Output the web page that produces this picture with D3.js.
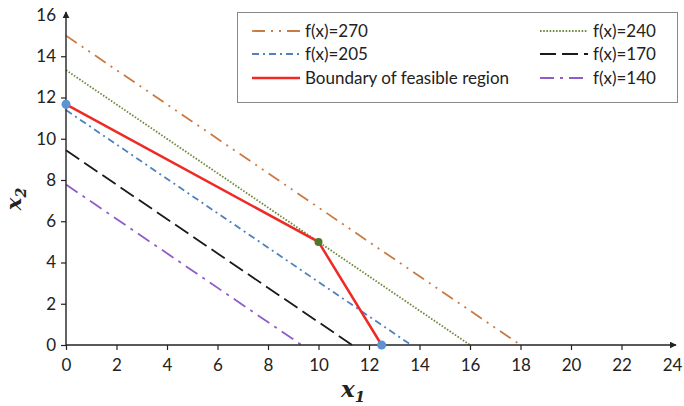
<!DOCTYPE html>
<html>
<head>
<meta charset="utf-8">
<script src="https://cdn.jsdelivr.net/npm/d3@7"></script>
<style>
  html, body { margin: 0; padding: 0; background: #fff; }
  svg { display: block; }
</style>
</head>
<body>
<svg id="chart" width="684" height="406"></svg>
<script>
// ---- Data ----
const xTicks = [0, 2, 4, 6, 8, 10, 12, 14, 16, 18, 20, 22, 24];
const yTicks = [0, 2, 4, 6, 8, 10, 12, 14, 16];

const levelLabels   = ["f(x)=270", "f(x)=240", "f(x)=205", "f(x)=170", "f(x)=140"];
const levelX1Inter  = [18, 16, 13.67, 11.33, 9.33];   // where the line meets x2 = 0
const levelX2Inter  = [15, 13.33, 11.39, 9.44, 7.78]; // where the line meets x1 = 0
const levelColors   = ["#C87B45", "#6E8B3D", "#4F81BD", "#1a1a1a", "#8F5DC9"];
const levelDashes   = ["13,6,2,6,2,6", "1.6,1.6", "7,4,2,4", "16,6", "14,6,3,6"];

const boundaryLabel = "Boundary of feasible region";
const boundaryX1 = [0, 10, 12.5];
const boundaryX2 = [11.67, 5, 0];

const markerX1 = [0, 10, 12.5];
const markerX2 = [11.67, 5, 0];
const markerColors = ["#5B93D3", "#4E7A27", "#5B93D3"];

// ---- Layout ----
const svg = d3.select("#chart");
const x = d3.scaleLinear().domain([0, 24]).range([66, 672]);
const y = d3.scaleLinear().domain([0, 16]).range([345, 15]);
const font = "Lato, 'Open Sans', sans-serif";

// level lines
const lineGen = d3.line().x(d => x(d[0])).y(d => y(d[1]));
levelLabels.forEach((lab, i) => {
  svg.append("path")
    .attr("d", lineGen([[0, levelX2Inter[i]], [levelX1Inter[i], 0]]))
    .attr("fill", "none")
    .attr("stroke", levelColors[i])
    .attr("stroke-width", 1.8)
    .attr("stroke-dasharray", levelDashes[i]);
});

// boundary
svg.append("path")
  .attr("d", lineGen(boundaryX1.map((v, i) => [v, boundaryX2[i]])))
  .attr("fill", "none")
  .attr("stroke", "#EE2A24")
  .attr("stroke-width", 2.5)
  .attr("stroke-linejoin", "round");

// axes
const xAxis = d3.axisBottom(x).tickValues(xTicks).tickSize(5).tickSizeOuter(0);
const gx = svg.append("g").attr("transform", `translate(0,${y(0)})`).call(xAxis);
const yAxis = d3.axisLeft(y).tickValues(yTicks).tickSize(5).tickSizeOuter(0);
const gy = svg.append("g").attr("transform", `translate(${x(0)},0)`).call(yAxis);

[gx, gy].forEach(g => {
  g.select(".domain").remove();
  g.selectAll(".tick line").attr("stroke", "#222").attr("stroke-width", 1.2);
  g.selectAll(".tick text").attr("font-family", font).attr("font-size", 17).attr("fill", "#222");
});
gx.selectAll(".tick text").attr("dy", "0.95em").attr("y", 10);
gy.selectAll(".tick text").attr("x", -10);
gx.selectAll(".tick").filter(d => d === 24).select("line").remove();
gy.selectAll(".tick").filter(d => d === 16).select("line").remove();

// axis lines with arrows
const defs = svg.append("defs");
defs.append("marker").attr("id", "arr").attr("viewBox", "0 0 10 10")
  .attr("refX", 9).attr("refY", 5).attr("markerWidth", 7).attr("markerHeight", 7)
  .attr("markerUnits", "userSpaceOnUse").attr("orient", "auto")
  .append("path").attr("d", "M0,0 L10,5 L0,10 Z").attr("fill", "#222");

svg.append("line").attr("x1", x(0)).attr("y1", y(0)).attr("x2", x(24) + 4).attr("y2", y(0))
  .attr("stroke", "#222").attr("stroke-width", 1.4).attr("marker-end", "url(#arr)");
svg.append("line").attr("x1", x(0)).attr("y1", y(0)).attr("x2", x(0)).attr("y2", y(16) - 3)
  .attr("stroke", "#222").attr("stroke-width", 1.4).attr("marker-end", "url(#arr)");

// markers
markerX1.forEach((v, i) => {
  svg.append("circle").attr("cx", x(v)).attr("cy", y(markerX2[i]))
    .attr("r", i === 1 ? 4 : 4.5).attr("fill", markerColors[i]);
});

// axis titles
const xt = svg.append("text").attr("x", 353).attr("y", 397).attr("text-anchor", "middle")
  .attr("font-family", "'DejaVu Serif', serif").attr("font-style", "italic").attr("font-weight", "bold")
  .attr("font-size", 23).attr("fill", "#222");
xt.append("tspan").text("x");
xt.append("tspan").attr("font-size", 15).attr("dy", 5).text("1");

const yt = svg.append("text").attr("transform", `translate(21,199) rotate(-90)`).attr("text-anchor", "middle")
  .attr("font-family", "'DejaVu Serif', serif").attr("font-style", "italic").attr("font-weight", "bold")
  .attr("font-size", 21).attr("fill", "#222");
yt.append("tspan").text("x");
yt.append("tspan").attr("font-size", 14).attr("dy", 5).text("2");

// legend
const lg = svg.append("g");
lg.append("rect").attr("x", 237.5).attr("y", 12.5).attr("width", 440).attr("height", 90)
  .attr("fill", "#fff").attr("stroke", "#888").attr("stroke-width", 1);

const legendItems = [
  { label: levelLabels[0], color: levelColors[0], dash: levelDashes[0], w: 1.8, col: 0, row: 0 },
  { label: levelLabels[2], color: levelColors[2], dash: levelDashes[2], w: 1.8, col: 0, row: 1 },
  { label: boundaryLabel, color: "#EE2A24", dash: null, w: 2.5, col: 0, row: 2 },
  { label: levelLabels[1], color: levelColors[1], dash: levelDashes[1], w: 1.8, col: 1, row: 0 },
  { label: levelLabels[3], color: levelColors[3], dash: levelDashes[3], w: 1.8, col: 1, row: 1 },
  { label: levelLabels[4], color: levelColors[4], dash: levelDashes[4], w: 1.8, col: 1, row: 2 },
];
const colX = [252, 540];
const rowY = [31, 54, 78];
legendItems.forEach(it => {
  const lx = colX[it.col], ly = rowY[it.row];
  const len = it.label === levelLabels[4] ? 43 : 48;
  const l = lg.append("line").attr("x1", lx).attr("x2", lx + len).attr("y1", ly).attr("y2", ly)
    .attr("stroke", it.color).attr("stroke-width", it.w);
  if (it.dash) l.attr("stroke-dasharray", it.dash);
  lg.append("text").attr("x", lx + 53).attr("y", ly).attr("dy", "0.35em")
    .attr("font-family", font).attr("font-size", 17).attr("fill", "#222").text(it.label);
});
</script>
</body>
</html>
